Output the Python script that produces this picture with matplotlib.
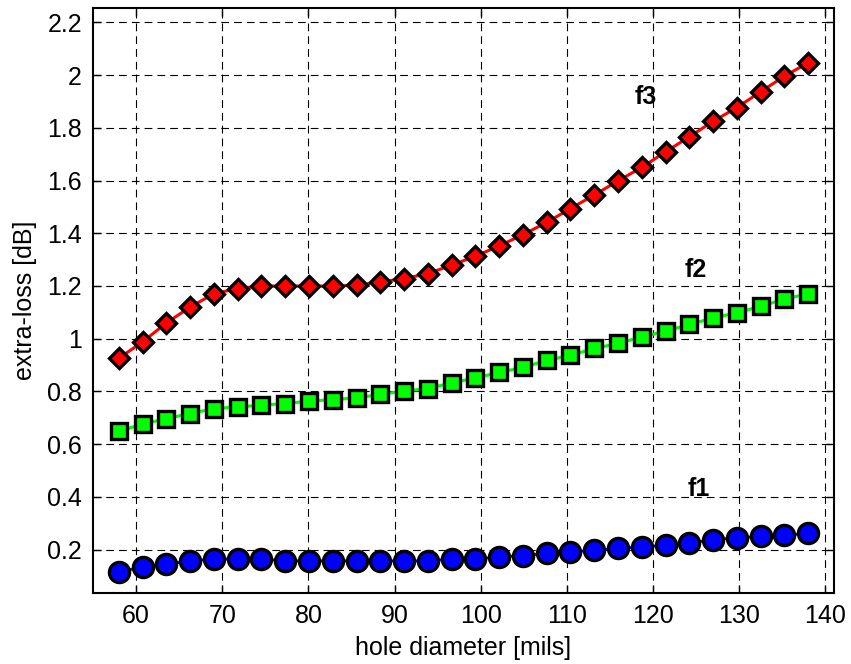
import numpy as np
import matplotlib
matplotlib.use("Agg")
import matplotlib.pyplot as plt
from matplotlib.ticker import FuncFormatter

plt.rcParams['font.family'] = ['Liberation Sans', 'DejaVu Sans']

# hole diameter [mils]
x_start, x_end, n_pts = 58.0, 138.0, 30
diam = np.linspace(x_start, x_end, n_pts)

f1 = [0.115, 0.134, 0.144, 0.157, 0.164, 0.164, 0.164, 0.157, 0.157, 0.157,
      0.157, 0.157, 0.157, 0.157, 0.164, 0.164, 0.172, 0.177, 0.185, 0.191,
      0.197, 0.204, 0.210, 0.216, 0.223, 0.238, 0.244, 0.250, 0.254, 0.261]
f2 = [0.649, 0.676, 0.697, 0.716, 0.735, 0.741, 0.748, 0.754, 0.763, 0.769,
      0.775, 0.789, 0.801, 0.811, 0.832, 0.851, 0.872, 0.891, 0.918, 0.937,
      0.963, 0.982, 1.007, 1.028, 1.054, 1.079, 1.098, 1.123, 1.150, 1.171]
f3 = [0.926, 0.988, 1.060, 1.120, 1.171, 1.190, 1.200, 1.200, 1.200, 1.200,
      1.203, 1.215, 1.228, 1.247, 1.279, 1.313, 1.352, 1.395, 1.441, 1.494,
      1.545, 1.599, 1.650, 1.709, 1.766, 1.825, 1.877, 1.937, 1.996, 2.047]

xticks = [60, 70, 80, 90, 100, 110, 120, 130, 140]
yticks = [0.2, 0.4, 0.6, 0.8, 1.0, 1.2, 1.4, 1.6, 1.8, 2.0, 2.2]

fig = plt.figure(figsize=(8.51, 6.64), dpi=100)
ax = fig.add_axes([0.1093, 0.1069, 0.8707, 0.8811])

ax.plot(diam, f1, '-', color='#0000ff', lw=2, marker='o', ms=14.5,
        mfc='#0000ff', mec='black', mew=2.4, zorder=3)
ax.plot(diam, f2, '-', color='#00ff00', lw=2.2, marker='s', ms=11,
        mfc='#00ff00', mec='black', mew=2.4, zorder=3)
ax.plot(diam, f3, '-', color='#ff0000', lw=2.2, marker='D', ms=10,
        mfc='#ff0000', mec='black', mew=2.4, zorder=3)

ax.text(119.2, 1.918, 'f3', fontsize=18, fontweight='bold', ha='center', va='center')
ax.text(125.0, 1.26, 'f2', fontsize=18, fontweight='bold', ha='center', va='center')
ax.text(125.3, 0.431, 'f1', fontsize=18, fontweight='bold', ha='center', va='center')

ax.set_xlim(55.0, 141.0)
ax.set_ylim(0.035, 2.255)
ax.set_xticks(xticks)
ax.set_yticks(yticks)
ax.yaxis.set_major_formatter(FuncFormatter(lambda v, p: '%g' % v))

ax.grid(True, color='black', linestyle=(0, (7, 4.5)), linewidth=0.8)
ax.set_axisbelow(True)
ax.tick_params(direction='in', top=True, right=True, length=6, width=1,
               labelsize=18, pad=8)
for s in ax.spines.values():
    s.set_linewidth(1.5)

ax.set_xlabel('hole diameter [mils]', fontsize=18, labelpad=6)
ax.set_ylabel('extra-loss [dB]', fontsize=18, labelpad=7)

fig.savefig('out.png', dpi=100)
